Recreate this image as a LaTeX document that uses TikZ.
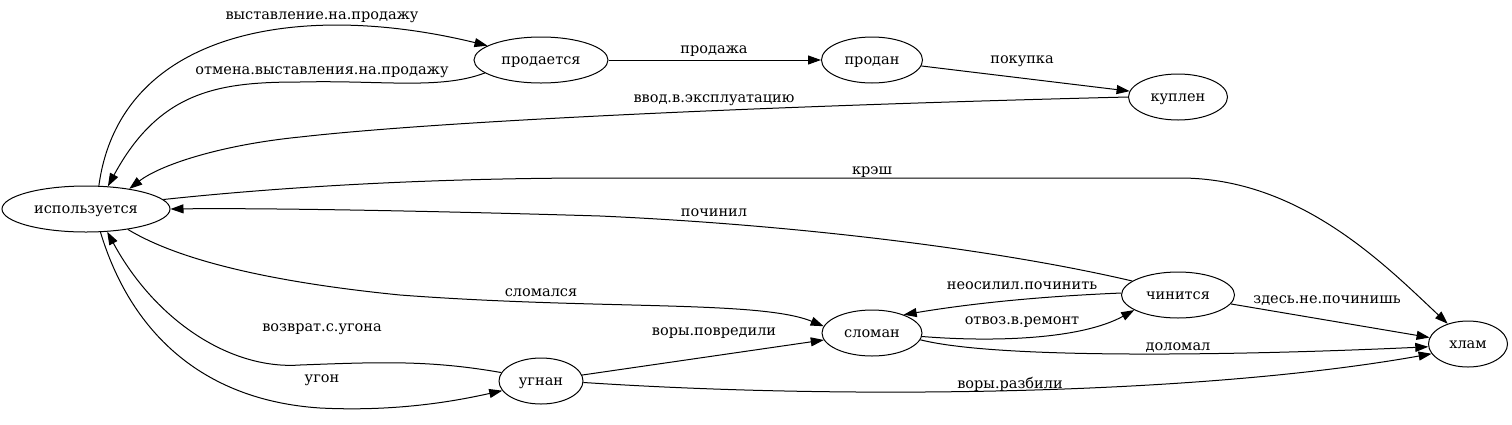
\documentclass[tikz,border=0pt]{standalone}
\usepackage{fontspec}
\setmainfont{DejaVu Serif}
\newfontfamily\graphfont{DejaVu Serif}
\usetikzlibrary{shapes.geometric, arrows.meta}

\begin{document}
\begin{tikzpicture}[x=1pt, y=-1pt,
        state/.style={draw, ellipse, line width=1pt, minimum height=46pt, inner sep=1pt,
            text height=11pt, text depth=3pt, font=\graphfont\fontsize{14.5pt}{17pt}\selectfont},
        trans/.style={line width=1pt, -{Triangle[length=13pt, width=9pt]}},
        lbl/.style={inner sep=0pt, text height=11pt, text depth=3pt, font=\graphfont\fontsize{14.5pt}{17pt}\selectfont}]
        \useasboundingbox (0,0) rectangle (1512,424);

        \node[state, minimum width=168pt] (used) at (86,209) {используется};
        \node[state, minimum width=134pt] (sell) at (541,60) {продается};
        \node[state, minimum width=101pt] (sold) at (872,60) {продан};
        \node[state, minimum width=99pt] (bought) at (1178,97) {куплен};
        \node[state, minimum width=100pt] (broken) at (872,333) {сломан};
        \node[state, minimum width=113pt] (fix) at (1178,295) {чинится};
        \node[state, minimum width=79pt] (junk) at (1468,344) {хлам};
        \node[state, minimum width=84pt] (stolen) at (541,381) {угнан};

        \draw[trans] (used.61) .. controls (120,30) and (300,0) .. (sell.165);
        \draw[trans] (sell.193) .. controls (440,90) and (380,80) .. (300,82) .. controls (220,82) and (160,90) .. (used.46);
        \draw[trans] (sell) -- (sold);
        \draw[trans] (sold) -- (bought);
        \draw[trans] (bought.west) .. controls (800,105) and (450,120) .. (300,137) .. controls (220,145) and (160,165) .. (used.25);
        \draw[trans] (used.7) .. controls (300,185) and (450,178) .. (600,178) -- (1180,178) .. controls (1300,178) and (1385,265) .. (junk.135);
        \draw[trans] (fix.163) .. controls (1000,250) and (800,225) .. (600,216) .. controls (400,210) and (250,208) .. (used.east);
        \draw[trans] (used.-26) .. controls (170,255) and (250,280) .. (400,295) .. controls (600,310) and (760,300) .. (broken.172);
        \draw[trans] (stolen.168) .. controls (430,360) and (380,362) .. (300,365) .. controls (230,370) and (155,320) .. (used.-47);
        \draw[trans] (used.-58) .. controls (130,330) and (200,400) .. (320,408) .. controls (400,412) and (460,400) .. (stolen.-166);
        \draw[trans] (stolen) -- (broken);
        \draw[trans] (stolen.-2) .. controls (850,400) and (1200,395) .. (junk.-165);
        \draw[trans] (fix.178) .. controls (1050,296) and (980,302) .. (broken.30);
        \draw[trans] (broken.-4) .. controls (990,342) and (1080,340) .. (fix.199);
        \draw[trans] (broken.-8) .. controls (1000,360) and (1250,355) .. (junk.-176);
        \draw[trans] (fix) -- (junk);

        \node[lbl] (lput) at (322,15) {выставление.на.продажу};
        \node[lbl] (lcancel) at (322,70) {отмена.выставления.на.продажу};
        \node[lbl] (lsale) at (714,49) {продажа};
        \node[lbl] (lbuy) at (1022,59) {покупка};
        \node[lbl] (lcommission) at (714,98) {ввод.в.эксплуатацию};
        \node[lbl] (lcrash) at (872,170) {крэш};
        \node[lbl] (lrepaired) at (714,212) {починил};
        \node[lbl] (lbroke) at (541,292) {сломался};
        \node[lbl] (lreturn) at (322,327) {возврат.с.угона};
        \node[lbl] (ltheft) at (322,378) {угон};
        \node[lbl] (lharm) at (714,331) {воры.повредили};
        \node[lbl] (lwreck) at (1010,384) {воры.разбили};
        \node[lbl] (lgiveup) at (1022,285) {неосилил.починить};
        \node[lbl] (ltoshop) at (1022,320) {отвоз.в.ремонт};
        \node[lbl] (lfinish) at (1178,346) {доломал};
        \node[lbl] (lnohope) at (1327,299) {здесь.не.починишь};

    \end{tikzpicture}
\end{document}
